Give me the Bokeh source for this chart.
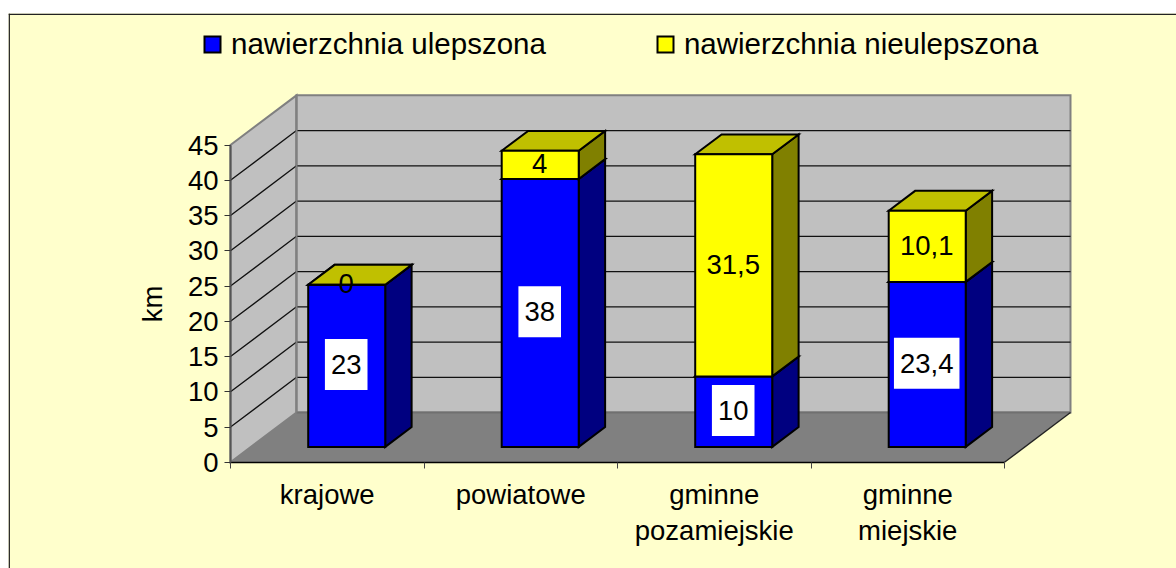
from bokeh.plotting import figure
from bokeh.embed import file_html
from bokeh.resources import INLINE
from bokeh.core.properties import value
from bokeh.models import (Range1d, FixedTicker, LinearAxis, Legend, LegendItem, Span)

categories_line1 = ["krajowe", "powiatowe", "gminne", "gminne"]
categories_line2 = ["", "", "pozamiejskie", "miejskie"]
improved = [23, 38, 10, 23.4]
unimproved = [0, 4, 31.5, 10.1]
improved_labels = ["23", "38", "10", "23,4"]
unimproved_labels = ["0", "4", "31,5", "10,1"]
series_names = ["nawierzchnia ulepszona", "nawierzchnia nieulepszona"]
y_ticks = [0, 5, 10, 15, 20, 25, 30, 35, 40, 45]
y_label = "km"

# scales: pixels per category and per km; the frame fills the whole figure
PX_X, PX_Y = 193.5, 7.05
W, H = 1168, 555
LEFT, BELOW = 222, 106.2
x_start, x_end = -LEFT / PX_X, (W - LEFT) / PX_X
y_start, y_end = -BELOW / PX_Y, (H - BELOW) / PX_Y

# oblique projection of the depth axis, in data units
DX, DY = 66 / PX_X, 49.7 / PX_Y
BAR_W, BAR_Z0, BAR_Z1 = 0.398, 0.31, 0.71
BAR_SHIFT = -1.0 / PX_X
LABEL_SHIFT = -0.5 / PX_X
LABEL_LIFT = 1.2 / PX_Y
FONT = "Liberation Sans"
FS = "27.5px"
LEGEND_FS = "29.5px"
BG = "#FFFFCC"


def pr(cat, val, z):
    return cat + z * DX, val + z * DY


def poly(points):
    xs, ys = zip(*[pr(*pt) for pt in points])
    return list(xs), list(ys)


p = figure(width=W, height=H, output_backend="svg", toolbar_location=None,
           x_range=Range1d(x_start, x_end), y_range=Range1d(y_start, y_end),
           min_border=0, background_fill_color=BG, border_fill_color=BG, outline_line_color=None,
           margin=(13, 0, 0, 8))
p.grid.visible = False
p.xaxis.visible = False
p.yaxis.visible = False

WALL = dict(line_color="#808080", line_width=2, line_join="miter")
top_val = y_ticks[-1]
n = len(categories_line1)
# walls and floor
x, y = poly([(0, 0, 0), (0, top_val, 0), (0, top_val, 1), (0, 0, 1)])
p.patch(x, y, fill_color="#C0C0C0", **WALL)
x, y = poly([(0, 0, 1), (0, top_val, 1), (n, top_val, 1), (n, 0, 1)])
p.patch(x, y, fill_color="#C0C0C0", **WALL)
x, y = poly([(0, 0, 0), (0, 0, 1), (n, 0, 1), (n, 0, 0)])
p.patch(x, y, fill_color="#808080", line_color=None)
x, y = poly([(0, 0, 1), (n, 0, 1)])
p.line(x, y, line_color="#707070", line_width=2)
# gridlines across the side and the back wall
gx, gy = [], []
for t in y_ticks[1:-1]:
    x, y = poly([(0, t, 0), (0, t, 1), (n, t, 1)])
    gx.append(x)
    gy.append(y)
p.multi_line(gx, gy, line_color="#111111", line_width=1.3)
x2, y2 = poly([(n, 0, 0), (n, 0, 1)])
p.line(x2, y2, line_color="#222222", line_width=1.3)
x, y = poly([(0, 0, 1), (0, top_val, 1)])
p.line(x, y, line_color="#808080", line_width=2)


def faces(base, height):
    front, side, top = ([], []), ([], []), ([], [])
    for i, (b, h) in enumerate(zip(base, height)):
        l = i + 0.5 - BAR_W / 2 + BAR_SHIFT
        r = i + 0.5 + BAR_W / 2 + BAR_SHIFT
        v0, v1 = b, b + h
        for store, pts in (
            (front, [(l, v0, BAR_Z0), (l, v1, BAR_Z0), (r, v1, BAR_Z0), (r, v0, BAR_Z0)]),
            (side, [(r, v0, BAR_Z0), (r, v1, BAR_Z0), (r, v1, BAR_Z1), (r, v0, BAR_Z1)]),
            (top, [(l, v1, BAR_Z0), (l, v1, BAR_Z1), (r, v1, BAR_Z1), (r, v1, BAR_Z0)]),
        ):
            xs, ys = poly(pts)
            store[0].append(xs)
            store[1].append(ys)
    return front, side, top


BAR = dict(line_color="black", line_width=2, line_join="miter")
renderers = []
for base, height, cols in (
    ([0] * len(improved), improved, ("#0000FF", "#000080", "#000080")),
    (improved, unimproved, ("#FFFF00", "#808000", "#C0C000")),
):
    front, side, top = faces(base, height)
    p.patches(side[0], side[1], fill_color=cols[1], **BAR)
    p.patches(top[0], top[1], fill_color=cols[2], **BAR)
    renderers.append(p.patches(front[0], front[1], fill_color=cols[0], **BAR))

# data labels
TXT = dict(text_font=value(FONT), text_font_size=value(FS), text_color="black",
           text_align="center", text_baseline="middle")
cx = [i + 0.5 + BAR_SHIFT + LABEL_SHIFT for i in range(len(improved))]
lx, ly = zip(*[pr(c, v / 2 + LABEL_LIFT, BAR_Z0) for c, v in zip(cx, improved)])
p.text(list(lx), list(ly), text=improved_labels, background_fill_color="white",
       padding=(6, 16), **TXT)
lx, ly = zip(*[pr(c, b + v / 2 + LABEL_LIFT, BAR_Z0) for c, b, v in zip(cx, improved, unimproved)])
p.text(list(lx), list(ly), text=unimproved_labels, **TXT)

# axes
AX = dict(major_label_text_font=FONT, major_label_text_font_size=FS, major_label_text_color="black")
yaxis = LinearAxis(ticker=FixedTicker(ticks=y_ticks), bounds=(0, top_val), fixed_location=0,
                   axis_line_color="#555555", axis_line_width=2,
                   major_tick_line_color="#333333", major_tick_out=6, major_tick_in=0,
                   minor_tick_out=0, minor_tick_in=0, major_label_standoff=6,
                   axis_label=y_label, axis_label_text_font=FONT, axis_label_text_font_size=FS,
                   axis_label_text_font_style="normal", axis_label_text_color="black",
                   axis_label_standoff=17, **AX)
p.add_layout(yaxis, "left")

tick_pos = [i + 0.5 for i in range(n)]
xaxis = LinearAxis(ticker=FixedTicker(ticks=tick_pos, minor_ticks=list(range(n + 1))),
                   bounds=(0, n), fixed_location=0,
                   major_label_overrides=dict(zip(tick_pos, categories_line1)),
                   axis_line_color="black", axis_line_width=1.5,
                   major_tick_out=0, major_tick_in=0, minor_tick_out=6, minor_tick_in=0,
                   minor_tick_line_color="#444444", major_label_standoff=11, **AX)
p.add_layout(xaxis, "below")
xaxis2 = LinearAxis(ticker=FixedTicker(ticks=tick_pos), bounds=(0, n), fixed_location=-36 / PX_Y,
                    major_label_overrides=dict(zip(tick_pos, categories_line2)),
                    axis_line_color=None, major_tick_line_color=None, minor_tick_line_color=None,
                    major_tick_out=0, major_tick_in=0, minor_tick_out=0, minor_tick_in=0,
                    major_label_standoff=17, **AX)
p.add_layout(xaxis2, "below")

legend = Legend(items=[LegendItem(label=s, renderers=[r]) for s, r in zip(series_names, renderers)],
                orientation="horizontal", location=(194, 507),
                background_fill_alpha=0, border_line_color=None, margin=0, padding=0,
                spacing=109, glyph_width=20, glyph_height=20, label_standoff=9,
                label_text_font=FONT, label_text_font_size=LEGEND_FS, label_text_color="black",
                label_height=30)
p.add_layout(legend, "center")

# frame line of the picture (left and top edge)
p.add_layout(Span(location=x_start + 0.7 / PX_X, dimension="height", line_color="#222222", line_width=1.5))
p.add_layout(Span(location=y_end - 0.7 / PX_Y, dimension="width", line_color="#222222", line_width=1.5))

open("out.html", "w").write(file_html(p, INLINE))
